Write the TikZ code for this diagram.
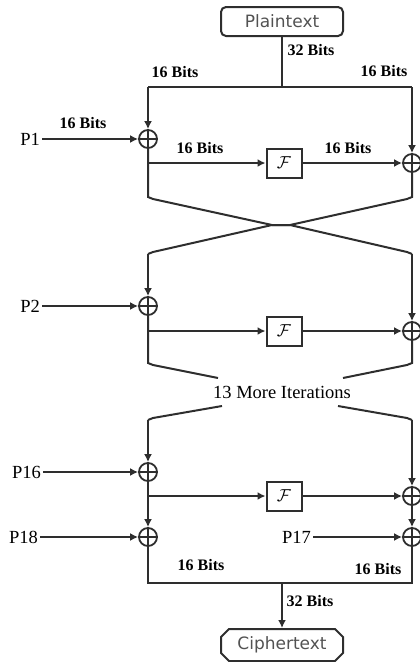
\documentclass[tikz,border=0pt]{standalone}
\usepackage{fontspec}
\setmainfont{Liberation Serif}
\newfontfamily\boxfont{DejaVu Sans}
\usetikzlibrary{arrows.meta,shapes.misc}
\definecolor{ink}{HTML}{2E2E2E}
\begin{document}
\begin{tikzpicture}[x=1pt,y=-1pt,
  wire/.style={draw=ink,line width=2pt},
  arr/.style={wire,-{Latex[length=8pt,width=8pt]}},
  xor/.style={circle,draw=ink,line width=1.8pt,minimum size=18pt,inner sep=0pt,
    path picture={\draw[ink,line width=1.8pt]
      (path picture bounding box.north) -- (path picture bounding box.south)
      (path picture bounding box.west) -- (path picture bounding box.east);}},
  fbox/.style={draw=ink,line width=2pt,minimum width=35pt,minimum height=29pt,inner sep=0pt,
    font=\fontsize{19}{19}\selectfont},
  io/.style={draw=ink,line width=2pt,minimum width=122pt,inner sep=0pt,
    font=\boxfont\fontsize{17}{17}\selectfont,text=black!68},
  bits/.style={font=\bfseries\fontsize{16}{16}\selectfont,inner sep=0pt},
  lab/.style={font=\fontsize{18.5}{18.5}\selectfont,inner sep=2pt}]

\useasboundingbox (0,0) rectangle (420,662);

% input / output blocks
\node[io,rounded corners=5pt,minimum height=29pt] (pt) at (282,21.5) {Plaintext};
\node[io,chamfered rectangle,chamfered rectangle xsep=4pt,chamfered rectangle ysep=4pt,
      minimum height=32pt] (ct) at (282,645) {Ciphertext};

% ---------- round 1 ----------
\coordinate (top) at (282,87);
\coordinate (tl) at (148,87);
\coordinate (tr) at (412,87);
\node[xor] (x1l) at (148,139) {};
\node[xor] (x1r) at (412,163) {};
\coordinate (b1) at (148,163);
\node[fbox] (f1) at (284,163) {$\mathcal{F}$};
\node[lab,anchor=east] (p1) at (42,139) {P1};

\draw[wire] (pt) -- (top);
\draw[wire] (tl) -- (tr);
\draw[arr] (tl) -- (x1l);
\draw[arr] (tr) -- (x1r);
\draw[arr] (p1) -- (x1l);
\draw[arr] (b1) -- (f1);
\draw[arr] (f1) -- (x1r);

\node[bits] (l32a) at (311,50) {32 Bits};
\node[bits] (l16a) at (175,72) {16 Bits};
\node[bits] (l16b) at (384,71) {16 Bits};
\node[bits] (l16c) at (83,123) {16 Bits};
\node[bits] (l16d) at (200,148) {16 Bits};
\node[bits] (l16e) at (348,148) {16 Bits};

% swap of the halves
\coordinate (c1l) at (148,197);
\coordinate (k1l) at (153,199);
\coordinate (c1r) at (412,197);
\coordinate (k1r) at (407,199);
\coordinate (mA) at (272,225);
\coordinate (mB) at (290,225);
\coordinate (k2l) at (153,252);
\coordinate (c2l) at (148,254);
\coordinate (k2r) at (407,252);
\coordinate (c2r) at (412,254);

% ---------- round 2 ----------
\node[xor] (x2l) at (148,306) {};
\node[xor] (x2r) at (412,331) {};
\coordinate (b2) at (148,331);
\node[fbox] (f2) at (284,331) {$\mathcal{F}$};
\node[lab,anchor=east] (p2) at (42,306) {P2};

\draw[wire] (x1l) -- (c1l) -- (k1l) -- (mA) -- (mB) -- (k2r) -- (c2r);
\draw[wire] (x1r) -- (c1r) -- (k1r) -- (mB) -- (mA) -- (k2l) -- (c2l);
\draw[arr] (c2l) -- (x2l);
\draw[arr] (c2r) -- (x2r);
\draw[arr] (p2) -- (x2l);
\draw[arr] (b2) -- (f2);
\draw[arr] (f2) -- (x2r);

% ---------- remaining iterations ----------
\node[lab] (more) at (282,392) {13 More Iterations};
\coordinate (c3l) at (148,363);
\coordinate (k3l) at (153,365);
\coordinate (e3l) at (218,378);
\coordinate (c3r) at (412,363);
\coordinate (k3r) at (407,365);
\coordinate (e3r) at (343,378);
\coordinate (s4l) at (222,406);
\coordinate (k4l) at (153,418);
\coordinate (c4l) at (148,420);
\coordinate (s4r) at (338,406);
\coordinate (k4r) at (407,418);
\coordinate (c4r) at (412,420);

\draw[wire] (x2l) -- (c3l) -- (k3l) -- (e3l);
\draw[wire] (x2r) -- (c3r) -- (k3r) -- (e3r);
\draw[wire] (s4l) -- (k4l) -- (c4l);
\draw[wire] (s4r) -- (k4r) -- (c4r);

% ---------- round 16 ----------
\node[xor] (x16l) at (148,472) {};
\node[xor] (x16r) at (412,496) {};
\coordinate (b16) at (148,496);
\node[fbox] (f16) at (284,496) {$\mathcal{F}$};
\node[lab,anchor=east] (p16) at (43,472) {P16};

\draw[arr] (c4l) -- (x16l);
\draw[arr] (c4r) -- (x16r);
\draw[arr] (p16) -- (x16l);
\draw[arr] (b16) -- (f16);
\draw[arr] (f16) -- (x16r);

% output whitening
\node[xor] (x18) at (148,537) {};
\node[xor] (x17) at (412,537) {};
\node[lab,anchor=east] (p18) at (40,537) {P18};
\node[lab,anchor=east] (p17) at (313,537) {P17};

\draw[arr] (x16l) -- (x18);
\draw[arr] (x16r) -- (x17);
\draw[arr] (p18) -- (x18);
\draw[arr] (p17) -- (x17);

% recombination
\coordinate (bl) at (148,583);
\coordinate (br) at (412,583);
\coordinate (bm) at (282,583);
\draw[wire] (x18) -- (bl) -- (br) -- (x17);
\draw[arr] (bm) -- (ct);

\node[bits] (l16f) at (201,565) {16 Bits};
\node[bits] (l16g) at (378,569) {16 Bits};
\node[bits] (l32b) at (310,601) {32 Bits};
\end{tikzpicture}
\end{document}
